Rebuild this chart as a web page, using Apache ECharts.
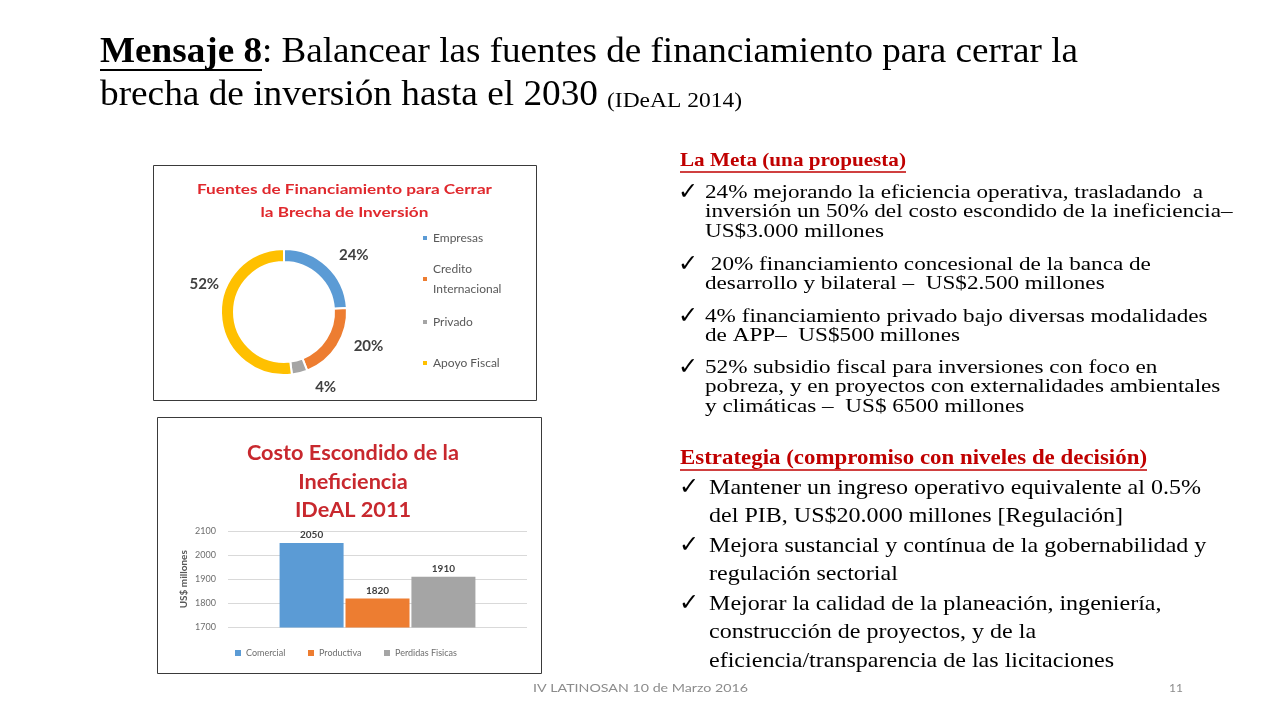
<!DOCTYPE html>
<html><head><meta charset="utf-8">
<script src="https://cdn.jsdelivr.net/npm/echarts@6/dist/echarts.min.js"></script>
<style>html,body{margin:0;padding:0;background:#fff}#c{width:1280px;height:720px}</style>
</head><body><div id="c"></div>
<script>
// ---- data ----
const pieNames = ['Empresas', 'Credito Internacional', 'Privado', 'Apoyo Fiscal'];
const pieValues = [24, 20, 4, 52];
const barNames = ['Comercial', 'Productiva', 'Perdidas Fisicas'];
const barValues = [2050, 1820, 1910];
const yTicks = [1700, 1800, 1900, 2000, 2100];
const palette = ['#5B9BD5', '#ED7D31', '#A5A5A5', '#FFC000'];

const titleLine1a = 'Mensaje 8';
const titleLine1b = ': Balancear las fuentes de financiamiento para cerrar la';
const titleLine2a = 'brecha de inversión hasta el 2030';
const titleLine2b = '(IDeAL 2014)';
const pieTitle = ['Fuentes de Financiamiento para Cerrar', 'la Brecha de Inversión'];
const barTitle = ['Costo Escondido de la', 'Ineficiencia', 'IDeAL 2011'];
const metaHeading = 'La Meta (una propuesta)';
const metaBullets = [
  '24% mejorando la eficiencia operativa, trasladando  a\ninversión un 50% del costo escondido de la ineficiencia–\nUS$3.000 millones',
  ' 20% financiamiento concesional de la banca de\ndesarrollo y bilateral –  US$2.500 millones',
  '4% financiamiento privado bajo diversas modalidades\nde APP–  US$500 millones',
  '52% subsidio fiscal para inversiones con foco en\npobreza, y en proyectos con externalidades ambientales\ny climáticas –  US$ 6500 millones'
];
const estrHeading = 'Estrategia (compromiso con niveles de decisión)';
const estrBullets = [
  'Mantener un ingreso operativo equivalente al 0.5%\ndel PIB, US$20.000 millones [Regulación]',
  'Mejora sustancial y contínua de la gobernabilidad y\nregulación sectorial',
  'Mejorar la calidad de la planeación, ingeniería,\nconstrucción de proyectos, y de la\neficiencia/transparencia de las licitaciones'
];
const footerText = 'IV LATINOSAN 10 de Marzo 2016';
const pageNumber = '11';

// ---- helpers ----
const mctx = document.createElement('canvas').getContext('2d');
function fit(text, font, target) { mctx.font = font; return target / mctx.measureText(text).width; }
const SERIF = '"Liberation Serif", "Times New Roman", serif';
const SANS = 'Lato, "Open Sans", sans-serif';
const CHECK_FONT = '24px "DejaVu Sans"';

const graphics = [];
function addText(text, x, y, font, fill, target, align) {
  graphics.push({
    type: 'text', x: x, y: y,
    scaleX: target ? fit(text, font, target) : 1,
    style: { text: text, font: font, fill: fill, align: align || 'left', verticalAlign: 'middle' }
  });
}
function addLine(x1, y1, x2, y2, w, c) {
  graphics.push({ type: 'line', shape: { x1, y1, x2, y2 }, style: { stroke: c, lineWidth: w } });
}

// slide title
addText(titleLine1a, 100, 53, 'bold 36px ' + SERIF, '#000', 162);
addLine(100, 70, 262, 70, 2, '#000');
addText(titleLine1b, 262, 53, '36px ' + SERIF, '#000', 816);
addText(titleLine2a, 100, 96, '36px ' + SERIF, '#000', 498);
addText(titleLine2b, 607, 101, '21px ' + SERIF, '#000', 135);

// boxes
graphics.push({ type: 'rect', shape: { x: 153.5, y: 165.5, width: 383, height: 235 }, style: { fill: 'none', stroke: '#3a3a3a', lineWidth: 1 } });
graphics.push({ type: 'rect', shape: { x: 157.5, y: 417.5, width: 384, height: 256 }, style: { fill: 'none', stroke: '#3a3a3a', lineWidth: 1 } });

// chart titles
(function () {
  const f = 'bold 14px ' + SANS;
  const s = fit(pieTitle[0], f, 295);
  [189, 212].forEach((y, i) => {
    graphics.push({ type: 'text', x: 344.5, y: y, scaleX: s, style: { text: pieTitle[i], font: f, fill: '#E0282D', align: 'center', verticalAlign: 'middle' } });
  });
})();
(function () {
  const f = 'bold 21px ' + SANS;
  const s = fit(barTitle[0], f, 212);
  [453, 482, 510].forEach((y, i) => {
    graphics.push({ type: 'text', x: 353, y: y, scaleX: s, style: { text: barTitle[i], font: f, fill: '#C8282E', align: 'center', verticalAlign: 'middle' } });
  });
})();

// right text: La Meta
addText(metaHeading, 680, 161, 'bold 19px ' + SERIF, '#C00000', 226);
addLine(680, 172, 906, 172, 1.5, '#C00000');
(function () {
  const f = '18px ' + SERIF;
  const s = fit(metaBullets[0].split('\n')[0], f, 498);
  const starts = [193, 265, 317, 368];
  const lh = 19.5;
  metaBullets.forEach((t, i) => {
    graphics.push({ type: 'text', x: 678, y: starts[i], style: { text: '✓', font: CHECK_FONT, fill: '#000', verticalAlign: 'middle' } });
    graphics.push({ type: 'text', x: 705, y: starts[i] - lh / 2, scaleX: s, style: { text: t, font: f, lineHeight: lh, fill: '#000', verticalAlign: 'top' } });
  });
})();

// right text: Estrategia
addText(estrHeading, 680, 459, 'bold 21px ' + SERIF, '#C00000', 467);
addLine(680, 470, 1147, 470, 1.5, '#C00000');
(function () {
  const f = '21px ' + SERIF;
  const s = fit(estrBullets[0].split('\n')[0], f, 492);
  const starts = [488, 546, 604];
  const lh = 28.7;
  estrBullets.forEach((t, i) => {
    graphics.push({ type: 'text', x: 679, y: starts[i], style: { text: '✓', font: CHECK_FONT, fill: '#000', verticalAlign: 'middle' } });
    graphics.push({ type: 'text', x: 709, y: starts[i] - lh / 2, scaleX: s, style: { text: t, font: f, lineHeight: lh, fill: '#000', verticalAlign: 'top' } });
  });
})();

// footer
addText(footerText, 533, 688, '12px ' + SANS, '#8C8C8C', 215);
addText(pageNumber, 1183, 688, '12px ' + SANS, '#8C8C8C', null, 'right');

// ---- chart ----
const legendCommon = {
  orient: 'vertical', padding: 0, icon: 'rect', itemWidth: 6, itemHeight: 6,
  selectedMode: false,
  textStyle: { color: '#595959', fontSize: 12, fontFamily: SANS, lineHeight: 14 }
};
const pieLegendCenters = [238, 279, 322, 363];
const legends = pieNames.map((n, i) => {
  const two = n === 'Credito Internacional';
  return Object.assign({}, legendCommon, {
    data: [n], left: 421,
    top: two ? pieLegendCenters[i] - 30 : pieLegendCenters[i] - 7,
    formatter: two ? 'Credito\nInternacional' : '{name}',
    textStyle: two
      ? { color: '#595959', fontSize: 12, fontFamily: SANS, lineHeight: 20, padding: [20, 0, 0, 0] }
      : legendCommon.textStyle
  });
});
const barLegendX = [235, 308, 384];
barNames.forEach((n, i) => {
  legends.push({
    data: [n], left: barLegendX[i], top: 646, padding: 0, icon: 'rect', itemWidth: 6, itemHeight: 6,
    selectedMode: false, itemGap: 4,
    textStyle: { color: '#6E6E6E', fontSize: 9, fontFamily: SANS, lineHeight: 14 }
  });
});

const option = {
  animation: false,
  backgroundColor: '#fff',
  color: palette,
  legend: legends,
  grid: { left: 228, right: 1280 - 527, top: 531, bottom: 720 - 627.5, containLabel: false },
  xAxis: {
    type: 'category', data: [''],
    axisLine: { show: false }, axisTick: { show: false }, axisLabel: { show: false }
  },
  yAxis: {
    type: 'value', min: yTicks[0], max: yTicks[yTicks.length - 1], interval: yTicks[1] - yTicks[0],
    axisLine: { show: false }, axisTick: { show: false },
    axisLabel: { color: '#6E6E6E', fontSize: 9, fontFamily: SANS, margin: 12, formatter: v => String(v) },
    splitLine: { lineStyle: { color: '#D9D9D9', width: 1 } },
    name: 'US$ millones', nameLocation: 'middle', nameRotate: 90, nameGap: 39,
    nameTextStyle: { color: '#595959', fontSize: 10, fontWeight: 'bold', fontFamily: SANS }
  },
  series: [
    {
      type: 'pie', center: [284, 312], radius: [50, 63], startAngle: 90, clockwise: true,
      avoidLabelOverlap: false,
      itemStyle: { borderColor: '#fff', borderWidth: 2 },
      label: { show: true, position: 'outside', formatter: '{c}%', color: '#404040', fontSize: 15, fontWeight: 'bold', fontFamily: SANS },
      labelLine: { show: false, length: 10, length2: 0 },
      labelLayout: function (p) {
        if (p.dataIndex === 3) return { dx: 13, dy: -32 };
        if (p.dataIndex === 2) return { dx: 8, dy: 4 };
        if (p.dataIndex === 0) return { dy: -4 };
        if (p.dataIndex === 1) return { dx: 3, dy: -5 };
        return {};
      },
      data: pieNames.map((n, i) => ({ name: n, value: pieValues[i], itemStyle: { color: palette[i] } }))
    }
  ].concat(barNames.map((n, i) => ({
    type: 'bar', name: n, data: [barValues[i]], barWidth: 64, barGap: '3%',
    itemStyle: { color: palette[i] },
    label: { show: true, position: 'top', distance: 3, color: '#404040', fontSize: 10, fontWeight: 'bold', fontFamily: SANS }
  }))),
  graphic: graphics
};

const chart = echarts.init(document.getElementById('c'));
chart.setOption(option);
</script>
</body></html>
